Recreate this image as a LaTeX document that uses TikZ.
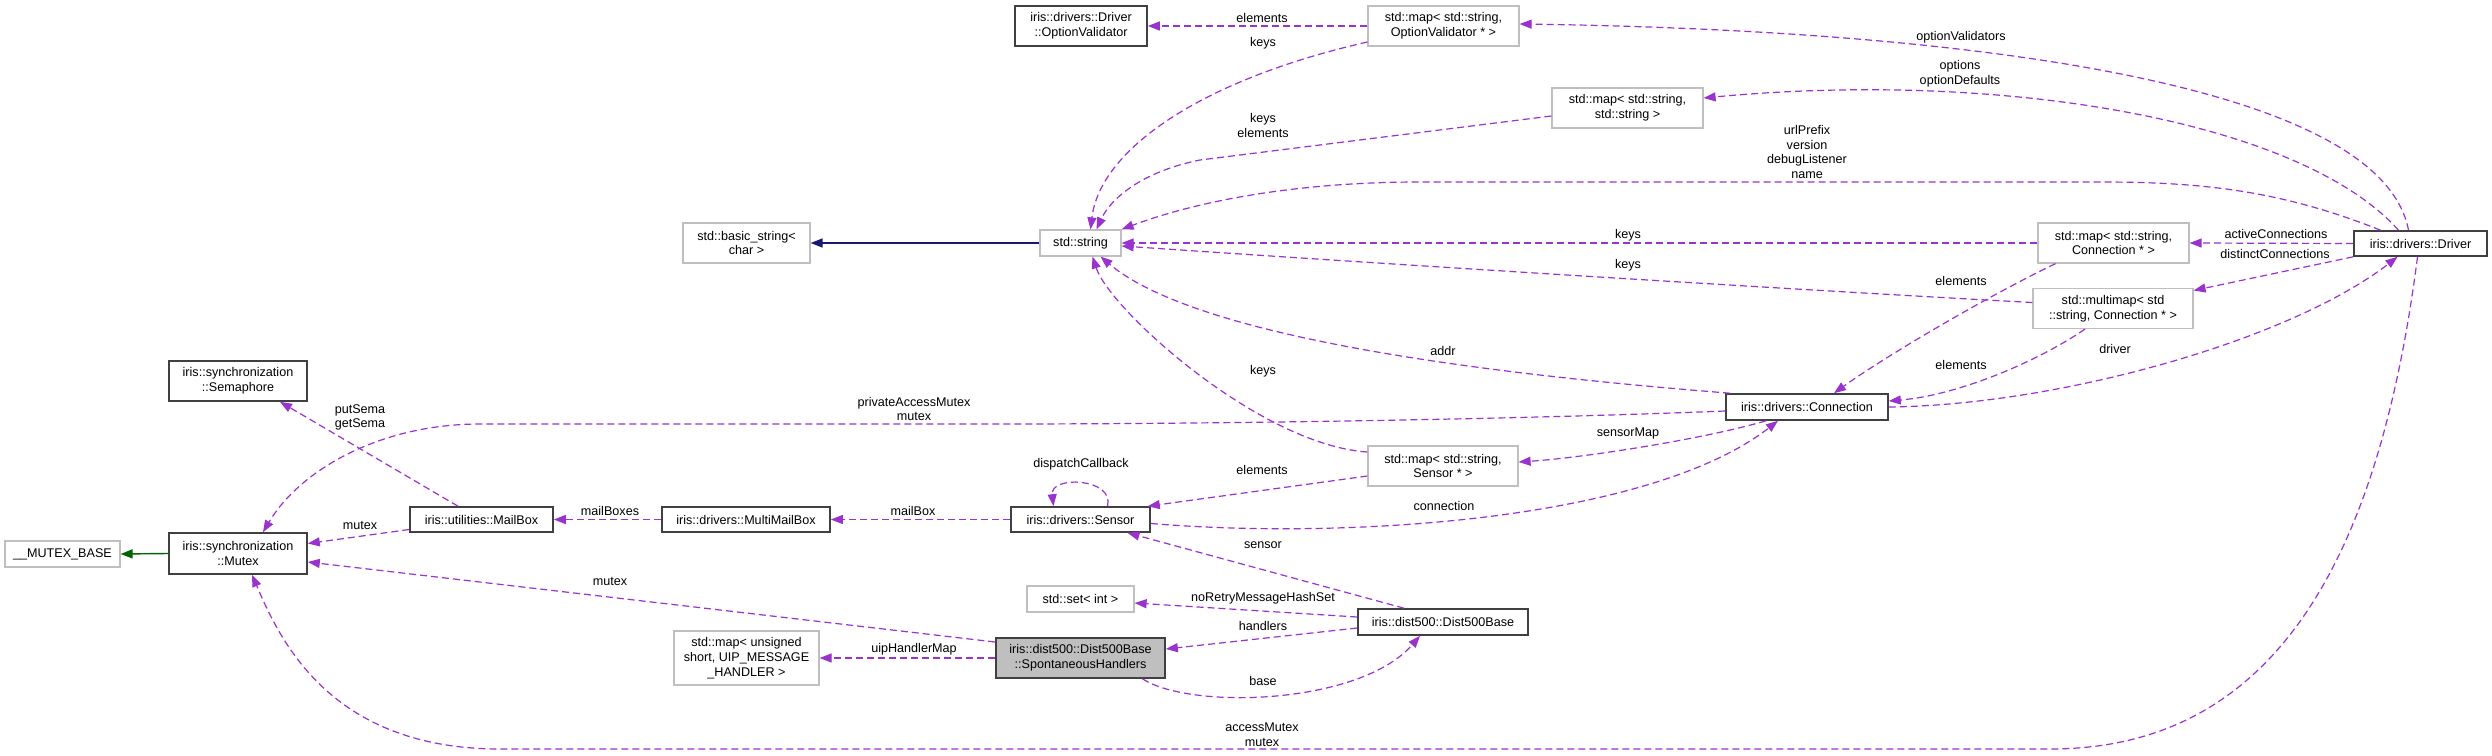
\documentclass[tikz,border=0pt]{standalone}
\usepackage{fontspec}
\setmainfont{Liberation Sans}
\usepackage{tikz}
\usetikzlibrary{arrows.meta}
\definecolor{dxpurple}{HTML}{9A32CD}
\definecolor{dxgreen}{HTML}{006400}
\definecolor{dxnavy}{HTML}{191970}
\newcommand{\dxfont}{\fontsize{12.6}{14.7}\selectfont}

\begin{document}
\begin{tikzpicture}[
  x=1pt, y=-1pt,
  cls/.style={draw=black!75,line width=1.6pt,fill=white,inner sep=0pt,align=center,font=\dxfont},
  ext/.style={cls,draw=black!25,line width=1.2pt},
  cur/.style={cls,fill=black!25},
  lbl/.style={inner sep=0pt,align=center,font=\dxfont},
  dep/.style={dxpurple,line width=1.2pt,dash pattern=on 7pt off 4pt,-{Triangle[length=12pt,width=9pt]}},
  inh/.style={dxgreen,line width=1.4pt,-{Triangle[length=12pt,width=9pt]}},
  tpl/.style={dxnavy,line width=1.4pt,-{Triangle[length=12pt,width=9pt]}}
]
\fill[white] (0,0) rectangle (2492,755);
\useasboundingbox (0,0) rectangle (2492,755);
%% ─── Classes ────────────────────────────────────────────────────────────────
\node[ext,minimum width=115pt,minimum height=26pt] (mutexbase) at (62.5,554) {\_\_MUTEX\_BASE};
\node[cls,minimum width=138pt,minimum height=41pt] (mutex) at (238,553.5) {iris::synchronization\\::Mutex};
\node[cls,minimum width=138pt,minimum height=40pt] (semaphore) at (238,381) {iris::synchronization\\::Semaphore};
\node[cls,minimum width=143pt,minimum height=25pt] (mailbox) at (481.5,519.5) {iris::utilities::MailBox};
\node[cls,minimum width=168pt,minimum height=25pt] (multimailbox) at (746,519.5) {iris::drivers::MultiMailBox};
\node[ext,minimum width=145pt,minimum height=54pt] (uipmap) at (746.5,658) {std::map< unsigned\\short, UIP\_MESSAGE\\\_HANDLER >};
\node[cls,minimum width=139pt,minimum height=25pt] (sensor) at (1080.5,519.5) {iris::drivers::Sensor};
\node[ext,minimum width=107pt,minimum height=26pt] (setint) at (1080.5,599) {std::set< int >};
\node[cur,minimum width=169pt,minimum height=40pt] (spont) at (1080.5,658) {iris::dist500::Dist500Base\\::SpontaneousHandlers};
\node[cls,minimum width=170pt,minimum height=26pt] (dist) at (1443,622) {iris::dist500::Dist500Base};
\node[ext,minimum width=150pt,minimum height=40pt] (sensormap) at (1443,466) {std::map< std::string,\\Sensor * >};
\node[cls,minimum width=162pt,minimum height=26pt] (connection) at (1807,407) {iris::drivers::Connection};
\node[ext,minimum width=81pt,minimum height=26pt] (string) at (1080.5,243) {std::string};
\node[ext,minimum width=127pt,minimum height=40pt] (basicstring) at (746.5,243) {std::basic\_string<\\char >};
\node[cls,minimum width=132pt,minimum height=40pt] (optval) at (1081,26) {iris::drivers::Driver\\::OptionValidator};
\node[ext,minimum width=151pt,minimum height=40pt] (optvalmap) at (1443.5,26) {std::map< std::string,\\OptionValidator * >};
\node[ext,minimum width=151pt,minimum height=40pt] (strmap) at (1627.5,108) {std::map< std::string,\\std::string >};
\node[ext,minimum width=151pt,minimum height=40pt] (connmap) at (2113.5,243) {std::map< std::string,\\Connection * >};
\node[ext,minimum width=160pt,minimum height=40pt] (multimap) at (2113,308.5) {std::multimap< std\\::string, Connection * >};
\node[cls,minimum width=133pt,minimum height=25pt] (driver) at (2420.5,243.5) {iris::drivers::Driver};
%% ─── Inheritance ────────────────────────────────────────────────────────────
\draw[inh] (mutex.west) -- (mutexbase.east);
\draw[tpl] (string.west) -- (basicstring.east);
%% ─── Usage ──────────────────────────────────────────────────────────────────
\draw[dep] ([xshift=-23.5]mailbox.north) -- ([xshift=42]semaphore.south);
\draw[dep] ([yshift=-10]mailbox.west) -- ([yshift=10]mutex.east);
\draw[dep] (multimailbox.west) -- (mailbox.east);
\draw[dep] (sensor.west) -- (multimailbox.east);
\draw[dep] ([xshift=27]sensor.north) .. controls (1115,478) and (1050,475) .. ([xshift=-27]sensor.north);
\draw[dep] ([yshift=-10]sensormap.west) -- ([xshift=-3]sensor.north east);
\draw[dep] ([yshift=14]sensormap.west) .. controls (1260,445) and (1110,310) .. ([xshift=12]string.south);
\draw[dep] ([xshift=-41]connection.south) .. controls (1700,440) and (1580,458) .. ([yshift=4]sensormap.east);
\draw[dep] ([yshift=-4]sensor.east) .. controls (1350,540) and (1650,520) .. ([xshift=-29]connection.south);
\draw[dep] ([yshift=-4]connection.west) .. controls (1500,420) and (1200,424) .. (1000,424)
  -- (480,424) .. controls (380,424) and (300,470) .. ([xshift=25]mutex.north);
\draw[dep] ([xshift=-77]connection.north) .. controls (1500,375) and (1200,340) .. ([xshift=20]string.south);
\draw[dep] (connmap.west) -- (string.east);
\draw[dep] ([yshift=6]multimap.west) .. controls (1800,290) and (1400,265) .. ([yshift=-3]string.east);
\draw[dep] ([yshift=-8]strmap.west) -- (1200,160) .. controls (1140,172) and (1110,200) .. ([xshift=16]string.north);
\draw[dep] ([yshift=-16]optvalmap.west) .. controls (1200,80) and (1100,150) .. ([xshift=10]string.north);
\draw[dep] (optvalmap.west) -- (optval.east);
\draw[dep] ([xshift=-40]driver.north) .. controls (2280,190) and (2200,182) .. (2100,182)
  -- (1420,182) .. controls (1300,182) and (1200,200) .. (string.north east);
\draw[dep] ([xshift=-22]driver.north) .. controls (2300,120) and (2000,70) .. ([yshift=10]strmap.east);
\draw[dep] ([xshift=-12]driver.north) .. controls (2380,80) and (1950,30) .. ([yshift=2]optvalmap.east);
\draw[dep] (driver.west) -- (connmap.east);
\draw[dep] (driver.south west) -- ([yshift=18]multimap.east);
\draw[dep] (connection.east) .. controls (2060,405) and (2290,340) .. ([xshift=-23]driver.south);
\draw[dep] ([xshift=-58]connmap.south) .. controls (1980,300) and (1880,360) .. ([xshift=27]connection.north);
\draw[dep] ([xshift=-28]multimap.south) .. controls (2040,360) and (1960,395) .. ([yshift=6]connection.east);
\draw[dep] ([xshift=-39]dist.north) -- ([xshift=47]sensor.south);
\draw[dep] ([yshift=5]dist.west) -- ([yshift=-4]setint.east);
\draw[dep] ([yshift=-6]dist.west) -- ([yshift=9]spont.east);
\draw[dep] ([xshift=62]spont.south) .. controls (1190,710) and (1360,705) .. ([xshift=-23]dist.south);
\draw[dep] (spont.west) -- (uipmap.east);
\draw[dep] ([yshift=16]spont.west) -- ([yshift=-8.5]mutex.east);
\draw[dep] ([xshift=-3]driver.south) .. controls (2380,550) and (2280,749) .. (2050,749)
  -- (500,749) .. controls (330,749) and (280,640) .. ([xshift=14]mutex.south);
%% ─── Labels ─────────────────────────────────────────────────────────────────
\node[lbl] (lSema) at (360,417.5) {putSema\\getSema};
\node[lbl] (lBoxMutex) at (360,525) {mutex};
\node[lbl] (lMailBoxes) at (610,511) {mailBoxes};
\node[lbl] (lMailBox) at (913,511) {mailBox};
\node[lbl] (lHandlerMutex) at (610,581) {mutex};
\node[lbl] (lUipMap) at (914,649) {uipHandlerMap};
\node[lbl] (lPrivMutex) at (914,409) {privateAccessMutex\\mutex};
\node[lbl] (lDispatch) at (1081,464) {dispatchCallback};
\node[lbl] (lSensElem) at (1262,470) {elements};
\node[lbl] (lSensKeys) at (1263,371) {keys};
\node[lbl] (lSensor) at (1263,545) {sensor};
\node[lbl] (lNoRetry) at (1263,598) {noRetryMessageHashSet};
\node[lbl] (lHandlers) at (1263,626) {handlers};
\node[lbl] (lBase) at (1263,681) {base};
\node[lbl] (lAccess) at (1262,734.5) {accessMutex\\mutex};
\node[lbl] (lValElem) at (1262,18) {elements};
\node[lbl] (lValKeys) at (1263,43) {keys};
\node[lbl] (lStrKeys) at (1263,125.5) {keys\\elements};
\node[lbl] (lAddr) at (1443,351) {addr};
\node[lbl] (lConnKeys) at (1628,235) {keys};
\node[lbl] (lMultiKeys) at (1628,265) {keys};
\node[lbl] (lSensorMap) at (1628,433) {sensorMap};
\node[lbl] (lConnection) at (1444,506) {connection};
\node[lbl] (lValidators) at (1961,37) {optionValidators};
\node[lbl] (lOptions) at (1960,73.5) {options\\optionDefaults};
\node[lbl] (lUrl) at (1807,152) {urlPrefix\\version\\debugListener\\name};
\node[lbl] (lActive) at (2276,234) {activeConnections};
\node[lbl] (lDistinct) at (2275,254) {distinctConnections};
\node[lbl] (lConnElem) at (1961,281) {elements};
\node[lbl] (lMultiElem) at (1961,365) {elements};
\node[lbl] (lDriver) at (2115,349) {driver};
\end{tikzpicture}
\end{document}
